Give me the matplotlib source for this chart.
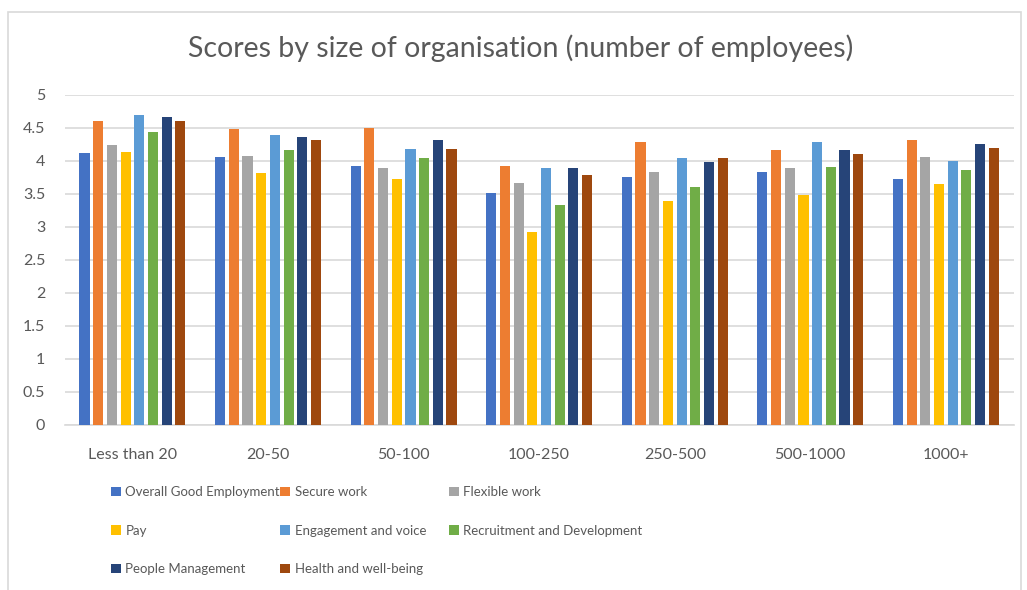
import numpy as np
import matplotlib.pyplot as plt
from matplotlib.patches import Rectangle, Patch

plt.rcParams['font.family'] = ['Lato', 'DejaVu Sans']

categories = ["Less than 20", "20-50", "50-100", "100-250", "250-500", "500-1000", "1000+"]
series_names = ["Overall Good Employment", "Secure work", "Flexible work", "Pay",
                "Engagement and voice", "Recruitment and Development",
                "People Management", "Health and well-being"]
colors = ["#4472C4", "#ED7D31", "#A5A5A5", "#FFC000",
          "#5B9BD5", "#70AD47", "#264478", "#9E480E"]

overall = [4.12, 4.06, 3.92, 3.51, 3.75, 3.83, 3.73]
secure = [4.61, 4.48, 4.50, 3.93, 4.29, 4.16, 4.32]
flexible = [4.24, 4.08, 3.89, 3.66, 3.84, 3.89, 4.06]
pay = [4.14, 3.81, 3.72, 2.93, 3.39, 3.49, 3.65]
engagement = [4.69, 4.40, 4.18, 3.89, 4.04, 4.28, 4.00]
recruitment = [4.44, 4.16, 4.04, 3.33, 3.61, 3.91, 3.87]
people = [4.67, 4.36, 4.32, 3.90, 3.98, 4.16, 4.26]
health = [4.61, 4.32, 4.18, 3.78, 4.04, 4.10, 4.20]
values = [overall, secure, flexible, pay, engagement, recruitment, people, health]

fig = plt.figure(figsize=(10.27, 5.9), dpi=100)
ax = fig.add_axes([0.063, 0.280, 0.924, 0.559])

x = np.arange(len(categories))
slot = 0.101
width = 0.075
for i, (vals, c) in enumerate(zip(values, colors)):
    ax.bar(x + (i - 3.5) * slot, vals, width=width, color=c, zorder=3)

ax.set_xlim(-0.5, len(categories) - 0.5)
ax.set_ylim(0, 5)
ax.set_yticks(np.arange(0, 5.01, 0.5))
ax.set_yticklabels(["0", "0.5", "1", "1.5", "2", "2.5", "3", "3.5", "4", "4.5", "5"])
ax.set_xticks(x)
ax.set_xticklabels(categories)
ax.tick_params(axis='both', length=0, labelsize=11.5, colors="#595959")
ax.tick_params(axis='x', pad=17)
ax.tick_params(axis='y', pad=14)
ax.grid(axis='y', color="#D9D9D9", linewidth=1.2, zorder=0)
for s in ["top", "right", "left"]:
    ax.spines[s].set_visible(False)
ax.spines["bottom"].set_color("#D9D9D9")
ax.spines["bottom"].set_linewidth(1.2)

fig.text(0.507, 0.918, "Scores by size of organisation (number of employees)",
         ha="center", va="center", fontsize=20.5, color="#595959")

# legend laid out row-wise in three columns
col_x = [0.108, 0.273, 0.437]
for col in range(3):
    idx = list(range(col, len(series_names), 3))
    handles = [Patch(facecolor=colors[i]) for i in idx]
    labels = [series_names[i] for i in idx]
    fig.legend(handles, labels, loc="upper left", bbox_to_anchor=(col_x[col], 0.176),
               bbox_transform=fig.transFigure, frameon=False, fontsize=9.5,
               labelcolor="#595959", handlelength=0.75, handleheight=0.75,
               handletextpad=0.35, labelspacing=2.0, borderaxespad=0, borderpad=0)

fig.patches.append(Rectangle((0.008, -0.01), 0.986, 0.99, transform=fig.transFigure,
                             fill=False, edgecolor="#D9D9D9", linewidth=1.2))

fig.savefig("out.png", dpi=100)
